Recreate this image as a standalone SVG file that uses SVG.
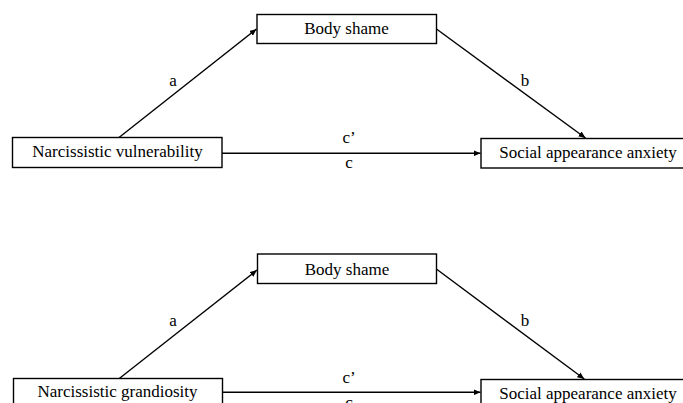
<svg xmlns="http://www.w3.org/2000/svg" width="683" height="403" viewBox="0 0 683 403">
<style>
.box{fill:#fff;stroke:#000;stroke-width:1.4}
.lbl{font-family:"Liberation Serif","Times New Roman",serif;font-size:17px;fill:#000;text-anchor:middle}
.edge{stroke:#000;stroke-width:1.4;fill:none;marker-end:url(#arr)}
</style>
<defs>
<marker id="arr" markerUnits="userSpaceOnUse" markerWidth="8" markerHeight="6" refX="7" refY="3" orient="auto">
<path d="M0,0 L7,3 L0,6 z" fill="#000"/>
</marker>
</defs>
<rect width="683" height="403" fill="#fff"/>
<g id="connectors">
<line class="edge" x1="119" y1="137.5" x2="256.5" y2="29"/>
<line class="edge" x1="436.5" y1="29" x2="585.5" y2="138"/>
<line class="edge" x1="222" y1="153.3" x2="480.5" y2="153.3"/>
<line class="edge" x1="119.3" y1="378.5" x2="257" y2="270"/>
<line class="edge" x1="436.7" y1="269.3" x2="584.3" y2="379"/>
<line class="edge" x1="222.7" y1="392.3" x2="480.5" y2="392.3"/>
<text class="lbl" x="173" y="85.5">a</text>
<text class="lbl" x="525" y="85.5">b</text>
<text class="lbl" x="349" y="143">c’</text>
<text class="lbl" x="349" y="168">c</text>
<text class="lbl" x="173" y="325.5">a</text>
<text class="lbl" x="525" y="325.5">b</text>
<text class="lbl" x="349" y="383">c’</text>
<text class="lbl" x="349" y="408">c</text>
</g>
<g id="body-shame-1">
<rect class="box" x="257" y="14.5" width="179.5" height="29"/>
<text class="lbl" x="346.5" y="34.3">Body shame</text>
</g>
<g id="narcissistic-vulnerability">
<rect class="box" x="12.5" y="137.5" width="209.5" height="30"/>
<text class="lbl" x="117.5" y="157">Narcissistic vulnerability</text>
</g>
<g id="social-appearance-anxiety-1">
<rect class="box" x="481" y="138.5" width="215" height="29.5"/>
<text class="lbl" x="588" y="157.5">Social appearance anxiety</text>
</g>
<g id="body-shame-2">
<rect class="box" x="257.5" y="254" width="179" height="29.5"/>
<text class="lbl" x="347" y="275">Body shame</text>
</g>
<g id="narcissistic-grandiosity">
<rect class="box" x="13.5" y="378.5" width="209" height="40"/>
<text class="lbl" x="117.5" y="397.3">Narcissistic grandiosity</text>
</g>
<g id="social-appearance-anxiety-2">
<rect class="box" x="481" y="379.5" width="215" height="40"/>
<text class="lbl" x="588" y="398.5">Social appearance anxiety</text>
</g>
</svg>
